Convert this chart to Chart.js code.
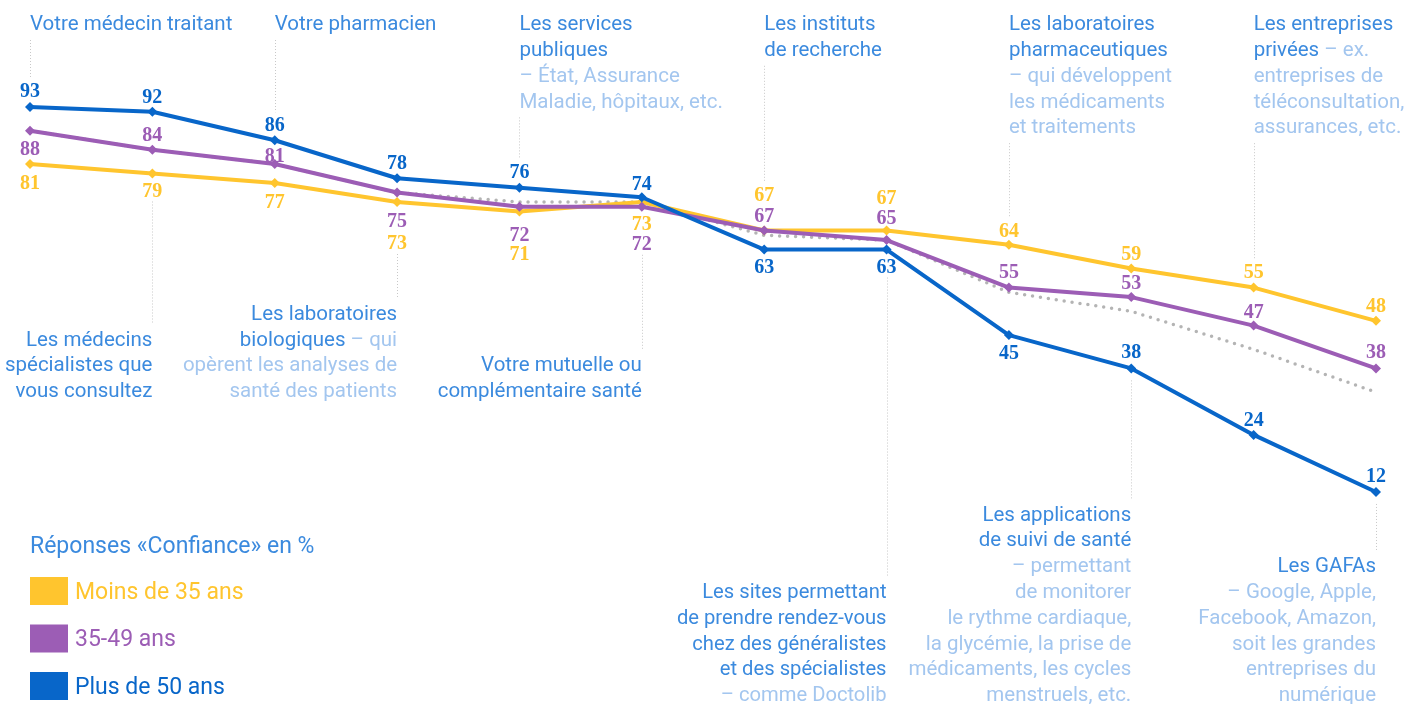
<!DOCTYPE html>
<html>
<head>
<meta charset="utf-8">
<script src="https://cdn.jsdelivr.net/npm/chart.js@4"></script>
<style>
  body { margin: 0; background: #fff; }
  canvas { display: block; }
</style>
</head>
<body>
<canvas id="myChart" width="1413" height="704"></canvas>
<script>
// data
const categories = [
  'Votre médecin traitant', 'Les médecins spécialistes', 'Votre pharmacien',
  'Les laboratoires biologiques', 'Les services publiques', 'Votre mutuelle',
  'Les instituts de recherche', 'Les sites de rendez-vous', 'Les laboratoires pharmaceutiques',
  'Les applications de suivi de santé', 'Les entreprises privées', 'Les GAFAs'
];
const plus50 = [93, 92, 86, 78, 76, 74, 63, 63, 45, 38, 24, 12];
const de35a49 = [88, 84, 81, 75, 72, 72, 67, 65, 55, 53, 47, 38];
const moins35 = [81, 79, 77, 73, 71, 73, 67, 67, 64, 59, 55, 48];
const ensemble = [88, 84, 81, 75, 73, 73, 66, 65, 54, 50, 42, 33];
const seriesNames = ['Moins de 35 ans', '35-49 ans', 'Plus de 50 ans'];
const legendTitle = 'Réponses «Confiance» en %';

// category texts: [text, 'd' dark | 'l' light]
const catTexts = [
  [[['Votre médecin traitant', 'd']]],
  [[['Les médecins', 'd']], [['spécialistes que', 'd']], [['vous consultez', 'd']]],
  [[['Votre pharmacien', 'd']]],
  [[['Les laboratoires', 'd']], [['biologiques', 'd'], [' – qui', 'l']], [['opèrent les analyses de', 'l']], [['santé des patients', 'l']]],
  [[['Les services', 'd']], [['publiques', 'd']], [['– État, Assurance', 'l']], [['Maladie, hôpitaux, etc.', 'l']]],
  [[['Votre mutuelle ou', 'd']], [['complémentaire santé', 'd']]],
  [[['Les instituts', 'd']], [['de recherche', 'd']]],
  [[['Les sites permettant', 'd']], [['de prendre rendez-vous', 'd']], [['chez des généralistes', 'd']], [['et des spécialistes', 'd']], [['– comme Doctolib', 'l']]],
  [[['Les laboratoires', 'd']], [['pharmaceutiques', 'd']], [['– qui développent', 'l']], [['les médicaments', 'l']], [['et traitements', 'l']]],
  [[['Les applications', 'd']], [['de suivi de santé', 'd']], [['– permettant', 'l']], [['de monitorer', 'l']], [['le rythme cardiaque,', 'l']], [['la glycémie, la prise de', 'l']], [['médicaments, les cycles', 'l']], [['menstruels, etc.', 'l']]],
  [[['Les entreprises', 'd']], [['privées', 'd'], [' – ex.', 'l']], [['entreprises de', 'l']], [['téléconsultation,', 'l']], [['assurances, etc.', 'l']]],
  [[['Les GAFAs', 'd']], [['– Google, Apple,', 'l']], [['Facebook, Amazon,', 'l']], [['soit les grandes', 'l']], [['entreprises du', 'l']], [['numérique', 'l']]]
];

const YELLOW = '#ffc52e', PURPLE = '#9c5db5', BLUE = '#0866c9', GREY = '#b4b4b4';
const DARK_TXT = '#3b8ade', LIGHT_TXT = '#a3c6ef';

// label placement (offset from point, px)
const labelDy = {
  blue: [-17, -16, -16, -16, -17, -14, 16, 16, 17, -17, -16, -17],
  purple: [17, -16, -9, 27, 27, 36, -16, -23, -17, -15, -15, -17],
  yellow: [18, 16, 18, 40, 41, 21, -37, -34, -15, -16, -17, -16]
};
// text block anchors: top blocks = first line centre, bottom blocks = last line centre
const blockY = [22, 389, 22, 389, 22, 389, 22, 693, 22, 693, 22, 693];
const blockSqueeze = [1, 1, 1, 1, 1, 1, 1, 0.985, 1, 1, 1, 1];
const LINE_H = 25.8;
const TXT_FONT = '20.5px Roboto, "Liberation Sans", sans-serif';

const annotations = {
  id: 'annotations',
  beforeDatasetsDraw(chart) {
    const ctx = chart.ctx;
    const xs = chart.scales.x, ys = chart.scales.y;
    ctx.save();
    ctx.strokeStyle = '#c8c8c8';
    ctx.lineWidth = 1;
    ctx.setLineDash([1, 2]);
    categories.forEach((c, i) => {
      const x = Math.round(xs.getPixelForValue(i)) + 0.5;
      const n = catTexts[i].length;
      const centres = [
        ys.getPixelForValue(plus50[i]) + labelDy.blue[i],
        ys.getPixelForValue(de35a49[i]) + labelDy.purple[i],
        ys.getPixelForValue(moins35[i]) + labelDy.yellow[i],
        ys.getPixelForValue(plus50[i]), ys.getPixelForValue(de35a49[i]), ys.getPixelForValue(moins35[i])
      ];
      let y1, y2;
      if (i % 2 === 0) {
        y1 = blockY[i] + (n - 1) * LINE_H + 18;
        y2 = Math.min(...centres) - 12;
      } else {
        y1 = Math.max(...centres) + 12;
        y2 = blockY[i] - (n - 1) * LINE_H - 14;
      }
      ctx.beginPath();
      ctx.moveTo(x, y1);
      ctx.lineTo(x, y2);
      ctx.stroke();
    });
    ctx.restore();
  },
  afterDatasetsDraw(chart) {
    const ctx = chart.ctx;
    const xs = chart.scales.x, ys = chart.scales.y;
    ctx.save();
    // value labels
    ctx.font = 'bold 20px "Liberation Serif", serif';
    ctx.textAlign = 'center';
    ctx.textBaseline = 'alphabetic';
    const groups = [[plus50, labelDy.blue, BLUE], [de35a49, labelDy.purple, PURPLE], [moins35, labelDy.yellow, YELLOW]];
    groups.forEach(g => {
      ctx.fillStyle = g[2];
      g[0].forEach((v, i) => {
        const x = xs.getPixelForValue(i);
        const y = ys.getPixelForValue(v) + g[1][i];
        ctx.fillText(String(v), x, y + 7);
      });
    });

    // category texts
    ctx.font = TXT_FONT;
    ctx.textBaseline = 'middle';
    ctx.textAlign = 'left';
    catTexts.forEach((lines, i) => {
      const x = xs.getPixelForValue(i);
      const top = i % 2 === 0;
      const sq = blockSqueeze[i];
      lines.forEach((segs, j) => {
        const y = 3 + (top ? blockY[i] + j * LINE_H : blockY[i] - (lines.length - 1 - j) * LINE_H);
        const w = segs.reduce((s, sg) => s + ctx.measureText(sg[0]).width, 0) * sq;
        let cx = top ? x : x - w;
        segs.forEach(sg => {
          ctx.fillStyle = sg[1] === 'd' ? DARK_TXT : LIGHT_TXT;
          ctx.save();
          ctx.translate(cx, y);
          ctx.scale(sq, 1);
          ctx.fillText(sg[0], 0, 0);
          ctx.restore();
          cx += ctx.measureText(sg[0]).width * sq;
        });
      });
    });

    // legend
    ctx.fillStyle = DARK_TXT;
    ctx.font = '23px Roboto, "Liberation Sans", sans-serif';
    ctx.fillText(legendTitle, 30, 547);
    const cols = [YELLOW, PURPLE, BLUE];
    seriesNames.forEach((name, k) => {
      const cy = 591 + k * 47.5;
      ctx.fillStyle = cols[k];
      ctx.fillRect(30, cy - 14, 38, 28);
      ctx.fillText(name, 75, cy + 2);
    });
    ctx.restore();
  }
};

const lineStyle = (color) => ({
  borderColor: color,
  backgroundColor: color,
  borderWidth: 4,
  pointStyle: 'rectRot',
  pointRadius: 5,
  pointBorderWidth: 0,
  borderJoinStyle: 'round',
  fill: false,
  tension: 0,
  clip: false
});

new Chart(document.getElementById('myChart').getContext('2d'), {
  type: 'line',
  data: {
    labels: categories,
    datasets: [
      Object.assign({ label: seriesNames[2], data: plus50 }, lineStyle(BLUE)),
      Object.assign({ label: seriesNames[1], data: de35a49 }, lineStyle(PURPLE)),
      Object.assign({ label: seriesNames[0], data: moins35 }, lineStyle(YELLOW)),
      {
        label: 'Ensemble',
        data: ensemble,
        borderColor: GREY,
        borderWidth: 3.5,
        borderDash: [0, 8],
        borderCapStyle: 'round',
        pointRadius: 0,
        fill: false,
        clip: false
      }
    ]
  },
  options: {
    responsive: false,
    animation: false,
    layout: { padding: { left: 30, right: 37, top: 73.7, bottom: 155 } },
    plugins: { legend: { display: false }, tooltip: { enabled: false } },
    scales: {
      x: { type: 'category', offset: false, display: false },
      y: { min: 0, max: 100, display: false }
    }
  },
  plugins: [annotations]
});
</script>
</body>
</html>
